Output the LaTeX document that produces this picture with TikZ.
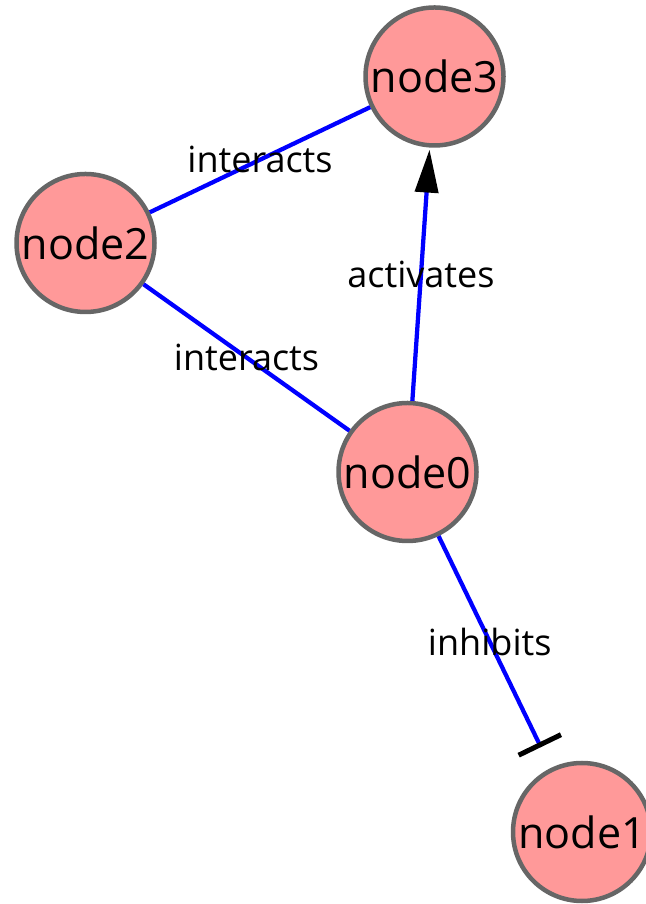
\documentclass[tikz,border=0pt]{standalone}
\usepackage{fontspec}
\setmainfont{Open Sans}
\usetikzlibrary{arrows.meta, positioning}
\definecolor{genefill}{RGB}{255,153,153}
\definecolor{generim}{RGB}{102,102,102}

\begin{document}
\begin{tikzpicture}[>=latex, scale=1,
    gene/.style={circle, fill=genefill, draw=generim, line width=0.09cm,
        minimum size=2.76cm, inner sep=0pt,
        font=\fontsize{24.5}{28}\selectfont},
    link/.style={draw=blue, line width=0.085cm},
    tag/.style={midway, font=\fontsize{20.5}{24}\selectfont, inner sep=0pt}]
    \useasboundingbox (0,0) rectangle (12.9,18.08);
\node[gene] (node0) at (8.15,8.64) {node0};
\node[gene] (node1) at (11.64,1.44) {node1};
\node[gene] (node2) at (1.71,13.22) {node2};
\node[gene] (node3) at (8.69,16.55) {node3};
% interactions
\draw[link] (node2) -- (node3) node[tag] {interacts};
\draw[link] (node0) -- (node2) node[tag] {interacts};
% regulation
\draw[link, -{Triangle[length=0.86cm, width=0.46cm, black]}, shorten >=0.04cm]
    (node0) -- (node3) node[tag] {activates};
\draw[link, -{Bar[width=0.94cm, line width=0.1cm, black]}, shorten >=0.46cm]
    (node0) -- (node1) node[tag, xshift=-0.1cm, yshift=0.2cm] {inhibits};
  \end{tikzpicture}
\end{document}
